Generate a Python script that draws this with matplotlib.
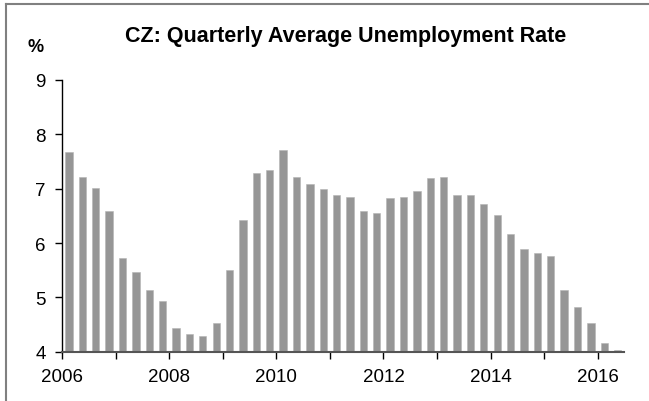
# -*- coding: utf-8 -*-
# CZ quarterly average unemployment rate, bar chart

import numpy as np
import matplotlib.pyplot as plt
from matplotlib.lines import Line2D

plt.rcParams['font.family'] = ['Liberation Sans', 'DejaVu Sans']

# %% data (2006Q1 .. 2016Q2)
start_year = 2006
rate = [7.68, 7.22, 7.02, 6.59,
        5.73, 5.46, 5.13, 4.93,
        4.44, 4.33, 4.29, 4.53,
        5.50, 6.42, 7.29, 7.35,
        7.72, 7.22, 7.08, 7.00,
        6.89, 6.85, 6.59, 6.56,
        6.83, 6.85, 6.95, 7.19,
        7.22, 6.89, 6.89, 6.72,
        6.52, 6.16, 5.89, 5.82,
        5.76, 5.13, 4.82, 4.53,
        4.16, 4.03]
years = list(range(2006, 2017))
year_labels = [str(y) if y % 2 == 0 else "" for y in years]

# %% plot
x = start_year + 0.125 + 0.25 * np.arange(len(rate))

fig = plt.figure(figsize=(6.49, 4.02), dpi=100)
ax = fig.add_axes([0.096, 0.1226, 0.866, 0.676])

ax.bar(x, np.array(rate) - 4, bottom=4, width=0.137, color="#969696",
       edgecolor="#b4b4b4", linewidth=0.4)

ax.set_xlim(2006, 2016.5)
ax.set_ylim(4, 9)
ax.set_yticks(range(4, 10))
ax.set_xticks(years)
ax.set_xticklabels(year_labels)

for s in ["top", "right"]:
    ax.spines[s].set_visible(False)
ax.spines["left"].set_color("black")
ax.spines["left"].set_linewidth(1.0)
ax.spines["bottom"].set_color("#555555")
ax.spines["bottom"].set_linewidth(1.5)

ax.tick_params(axis="both", direction="out", length=5, width=1,
               labelsize=13.5, pad=7, color="black")

fig.text(0.532, 0.91, "CZ: Quarterly Average Unemployment Rate",
         ha="center", va="center", fontsize=15.5, fontweight="bold")
fig.text(0.042, 0.882, "%", ha="left", va="center", fontsize=13,
         fontweight="bold")

# grey frame (left and top only are visible)
fig.add_artist(Line2D([5.5 / 649, 5.5 / 649], [0, 1 - 4.7 / 402],
                      transform=fig.transFigure, color="#808080", lw=1.5))
fig.add_artist(Line2D([5.5 / 649, 1], [1 - 4.7 / 402, 1 - 4.7 / 402],
                      transform=fig.transFigure, color="#808080", lw=1.5))

fig.savefig("out.png", dpi=100)
